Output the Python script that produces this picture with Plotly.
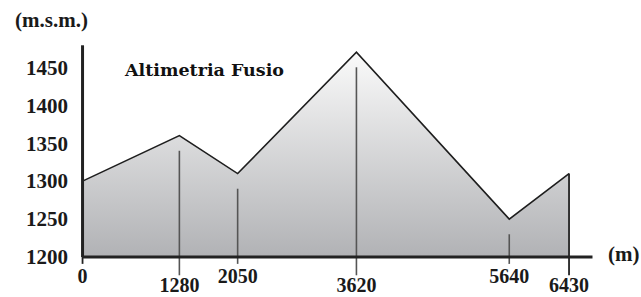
import plotly.graph_objects as go

# ---- data ----
distances = [0, 1280, 2050, 3620, 5640, 6430]          # m
elevations = [1300, 1360, 1310, 1470, 1250, 1310]       # m.s.m.
tick_labels = ["0", "1280", "2050", "3620", "5640", "6430"]
y_ticks = [1200, 1250, 1300, 1350, 1400, 1450]
title_text = "Altimetria Fusio"
y_unit = "(m.s.m.)"
x_unit = "(m)"

# ---- layout constants ----
Y_BASE = 1200
Y_MIN, Y_MAX = 1150, 1482
X_MIN, X_MAX = -60, 6760
AXIS_X_END = 6740
AXIS_Y_END = 1479
GAP = 20                 # gap between profile and inner marker line
SHORT_END, LONG_END = 1191, 1176
LABEL_HI, LABEL_LO = 1172, 1160

TICK_FONT = dict(family="Liberation Serif", size=21, color="#1a1a1a", weight="bold")
XLAB_FONT = dict(family="Liberation Serif", size=20, color="#1a1a1a", weight="bold")

fig = go.Figure()

# filled profile (polygon down to base)
fig.add_trace(go.Scatter(
    x=[distances[0]] + distances + [distances[-1]],
    y=[Y_BASE] + elevations + [Y_BASE],
    mode="none", fill="toself",
    fillgradient=dict(type="vertical",
                      colorscale=[[0, "#b1b2b5"], [1, "#fafafa"]]),
    hoverinfo="skip", showlegend=False))

# marker lines at each point
for i, (d, e) in enumerate(zip(distances, elevations)):
    bottom = SHORT_END if i % 2 == 0 else LONG_END
    inner = 0 < i < len(distances) - 1
    if i == 0:
        top = Y_BASE
    elif not inner:
        top = e
    else:
        top = e - GAP
    fig.add_trace(go.Scatter(
        x=[d, d], y=[top, bottom], mode="lines",
        line=dict(color="#555555" if inner else "#222222",
                  width=1.6 if inner else 1.8),
        hoverinfo="skip", showlegend=False))

# profile outline
fig.add_trace(go.Scatter(
    x=distances, y=elevations, mode="lines",
    line=dict(color="#1e1e1e", width=1.6),
    hoverinfo="skip", showlegend=False))

# axes lines
fig.add_trace(go.Scatter(x=[0, 0], y=[Y_BASE, AXIS_Y_END], mode="lines",
                         line=dict(color="#222222", width=3),
                         hoverinfo="skip", showlegend=False))
fig.add_trace(go.Scatter(x=[0, AXIS_X_END], y=[Y_BASE, Y_BASE], mode="lines",
                         line=dict(color="#222222", width=3),
                         hoverinfo="skip", showlegend=False))

# x tick labels (alternating heights)
fig.add_trace(go.Scatter(
    x=distances,
    y=[LABEL_HI if i % 2 == 0 else LABEL_LO for i in range(len(distances))],
    mode="text", text=tick_labels, textposition="middle center",
    textfont=XLAB_FONT, cliponaxis=False,
    hoverinfo="skip", showlegend=False))

fig.update_layout(
    width=641, height=297,
    margin=dict(l=78, r=47, t=43, b=2),
    paper_bgcolor="white", plot_bgcolor="white",
    xaxis=dict(range=[X_MIN, X_MAX], visible=False, fixedrange=True),
    yaxis=dict(range=[Y_MIN, Y_MAX], tickvals=y_ticks,
               ticktext=[str(v) for v in y_ticks],
               showgrid=False, zeroline=False, showline=False,
               ticks="", ticklabelstandoff=9, tickfont=TICK_FONT,
               fixedrange=True),
    annotations=[
        dict(text="<b>" + title_text + "</b>", x=1606, y=1446,
             xref="x", yref="y", showarrow=False,
             xanchor="center", yanchor="middle",
             font=dict(family="DejaVu Serif", size=17.5, color="#111111")),
        dict(text=y_unit, x=-0.0504, y=1.0916, xref="paper", yref="paper",
             xanchor="center", yanchor="middle",
             showarrow=False, font=TICK_FONT),
        dict(text=x_unit, x=1.058, y=1204, xref="paper", yref="y",
             xanchor="center", yanchor="middle",
             showarrow=False, font=TICK_FONT),
    ],
)

fig.write_html("out.html", config={"displayModeBar": False},
               post_script="document.body.style.margin='0';")
